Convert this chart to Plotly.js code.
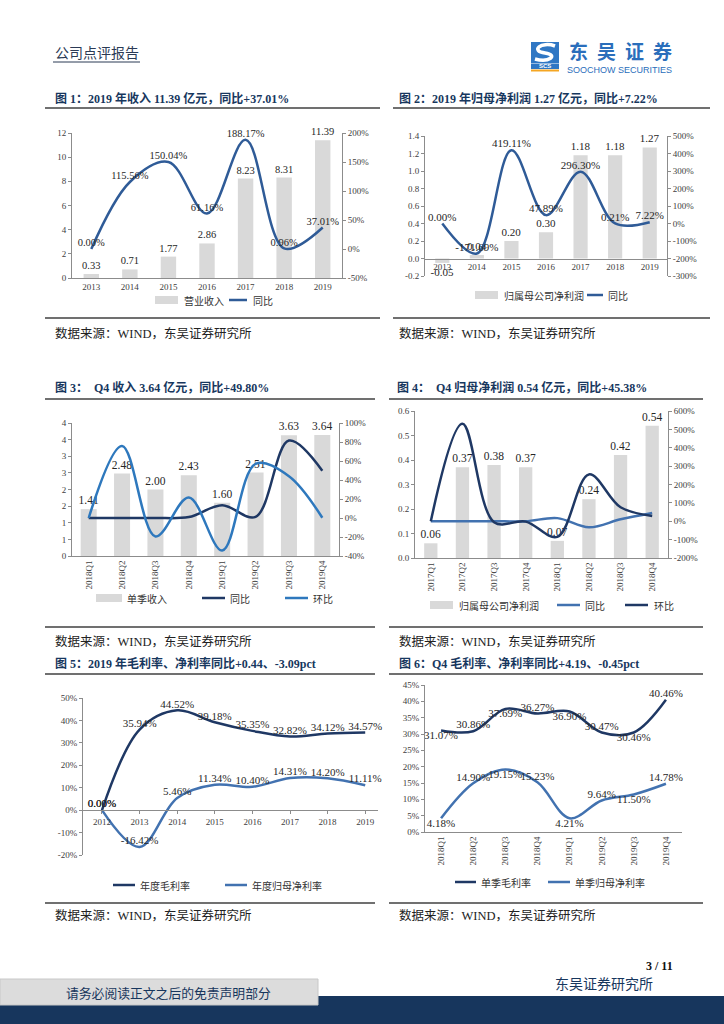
<!DOCTYPE html>
<html><head><meta charset="utf-8">
<script src="https://cdn.plot.ly/plotly-3.0.1.min.js"></script>
<style>html,body{margin:0;padding:0;background:#fff}#page{width:724px;height:1024px}</style>
</head><body><div id="page"></div>
<script>
// ---------------- DATA ----------------
const years1 = ['2013','2014','2015','2016','2017','2018','2019'];
const revenue = [0.33,0.71,1.77,2.86,8.23,8.31,11.39];
const revenueYoY = [0.00,115.56,150.04,61.16,188.17,0.96,37.01];
const netProfit = [-0.05,0.04,0.20,0.30,1.18,1.18,1.27];
const netProfitYoY = [0.00,-171.69,419.11,47.89,296.30,0.21,7.22];

const quarters3 = ['2018Q1','2018Q2','2018Q3','2018Q4','2019Q1','2019Q2','2019Q3','2019Q4'];
const qRevenue = [1.41,2.48,2.00,2.43,1.60,2.51,3.63,3.64];
const qRevenueYoY = [0,0,0,1,13.5,1.2,81.5,49.8];
const qRevenueQoQ = [0,75.9,-19.4,21.5,-34.2,57.0,44.0,0.3];

const quarters4 = ['2017Q1','2017Q2','2017Q3','2017Q4','2018Q1','2018Q2','2018Q3','2018Q4'];
const qProfit = [0.06,0.37,0.38,0.37,0.07,0.24,0.42,0.54];
const qProfitYoY = [0,0,0,0,17,-33,10.5,45.38];
const qProfitQoQ = [0,530,-5,-2,-85,255,76,28.6];

const years5 = ['2012','2013','2014','2015','2016','2017','2018','2019'];
const grossMargin = [0.00,35.94,44.52,39.18,35.35,32.82,34.12,34.57];
const netMargin = [0.00,-16.42,5.46,11.34,10.40,14.31,14.20,11.11];

const quarters6 = ['2018Q1','2018Q2','2018Q3','2018Q4','2019Q1','2019Q2','2019Q3','2019Q4'];
const qGrossMargin = [31.07,30.86,37.69,36.27,36.90,30.47,30.46,40.46];
const qNetMargin = [4.18,14.90,19.15,15.23,4.21,9.64,11.50,14.78];

// tick labels
const ticks1L = [0,2,4,6,8,10,12];
const ticks1R = [-50,0,50,100,150,200];
const ticks2L = [-0.2,0,0.2,0.4,0.6,0.8,1.0,1.2,1.4];
const ticks2R = [-300,-200,-100,0,100,200,300,400,500];
const ticks3L = [0,0.5,1,1.5,2,2.5,3,3.5,4];
const ticks3Ltext = ['0','1','1','2','2','3','3','4','4'];
const ticks3R = [-40,-20,0,20,40,60,80,100];
const ticks4L = [0,0.1,0.2,0.3,0.4,0.5,0.6];
const ticks4R = [-200,-100,0,100,200,300,400,500,600];
const ticks5 = [-20,-10,0,10,20,30,40,50];
const ticks6 = [0,5,10,15,20,25,30,35,40,45];

// ---------------- HELPERS ----------------
const W = 724, H = 1024;
const P = x => x / W;
const Q = y => 1 - y / H;
const SERIF = "'Liberation Serif','Noto Sans CJK SC',serif";
const CJK = "'Noto Sans CJK SC','Liberation Serif',sans-serif";
const GRAY = '#d9d9d9';
const NAVY = '#1f3864';
const BLUE = '#2f5b97';
const BRIGHT = '#2e78bd';
const MID = '#4272b0';
const TITLE = '#17375e';

const pct = v => v.toFixed(2) + '%';
const num2 = v => v.toFixed(2);
const pctTick = v => v + '%';
const dec1 = v => v.toFixed(1);

const axBase = {
  showline: true, linecolor: '#8c8c8c', linewidth: 1, showgrid: false, zeroline: false,
  ticks: 'outside', ticklen: 3, tickcolor: '#8c8c8c',
  tickfont: {family: SERIF, size: 9, color: '#404040'}, fixedrange: true
};
const lblFont = {family: SERIF, size: 11, color: '#262626'};

function zeroPos(dTop, dBot, r0, r1) {
  const b = Q(dBot), t = Q(dTop);
  return b + (0 - r0) / (r1 - r0) * (t - b);
}

// ---------------- TRACES ----------------
const traces = [];
// Chart 1
traces.push({type:'bar', x: years1, y: revenue, xaxis:'x', yaxis:'y', width:0.4,
  marker:{color:GRAY}, text: revenue.map(num2), textposition:'outside', constraintext:'none',
  textfont:{...lblFont, size:10.5}, cliponaxis:false, hoverinfo:'none'});
traces.push({type:'scatter', mode:'lines+text', x: years1, y: revenueYoY, xaxis:'x', yaxis:'y2',
  line:{color:BLUE, width:2.5, shape:'spline'}, text: revenueYoY.map(pct), textposition:'top center',
  textfont:{...lblFont, size:10.5}, cliponaxis:false, hoverinfo:'none'});
// Chart 2
traces.push({type:'bar', x: years1, y: netProfit, xaxis:'x2', yaxis:'y3', width:0.41,
  marker:{color:GRAY}, text: netProfit.map(num2), textposition:'outside', constraintext:'none',
  textfont:lblFont, cliponaxis:false, hoverinfo:'none'});
traces.push({type:'scatter', mode:'lines+text', x: years1, y: netProfitYoY, xaxis:'x2', yaxis:'y4',
  line:{color:BLUE, width:2.5, shape:'spline'}, text: netProfitYoY.map(pct), textposition:'top center',
  textfont:lblFont, cliponaxis:false, hoverinfo:'none'});
// Chart 3
traces.push({type:'bar', x: quarters3, y: qRevenue, xaxis:'x3', yaxis:'y5', width:0.48,
  marker:{color:GRAY}, text: qRevenue.map(num2), textposition:'outside', constraintext:'none',
  textfont:{...lblFont, size:11.5}, cliponaxis:false, hoverinfo:'none'});
traces.push({type:'scatter', mode:'lines', x: quarters3, y: qRevenueYoY, xaxis:'x3', yaxis:'y6',
  line:{color:NAVY, width:2.5, shape:'spline'}, cliponaxis:false, hoverinfo:'none'});
traces.push({type:'scatter', mode:'lines', x: quarters3, y: qRevenueQoQ, xaxis:'x3', yaxis:'y6',
  line:{color:BRIGHT, width:2.5, shape:'spline'}, cliponaxis:false, hoverinfo:'none'});
// Chart 4
traces.push({type:'bar', x: quarters4, y: qProfit, xaxis:'x4', yaxis:'y7', width:0.42,
  marker:{color:GRAY}, text: qProfit.map(num2), textposition:'outside', constraintext:'none',
  textfont:{...lblFont, size:11.5}, cliponaxis:false, hoverinfo:'none'});
traces.push({type:'scatter', mode:'lines', x: quarters4, y: qProfitYoY, xaxis:'x4', yaxis:'y8',
  line:{color:MID, width:2.5, shape:'spline'}, cliponaxis:false, hoverinfo:'none'});
traces.push({type:'scatter', mode:'lines', x: quarters4, y: qProfitQoQ, xaxis:'x4', yaxis:'y8',
  line:{color:NAVY, width:2.5, shape:'spline'}, cliponaxis:false, hoverinfo:'none'});
// Chart 5
traces.push({type:'scatter', mode:'lines+text', x: years5, y: grossMargin, xaxis:'x5', yaxis:'y9',
  line:{color:NAVY, width:2.5, shape:'spline'}, text: grossMargin.map(pct), textposition:'top center',
  textfont:lblFont, cliponaxis:false, hoverinfo:'none'});
traces.push({type:'scatter', mode:'lines+text', x: years5, y: netMargin, xaxis:'x5', yaxis:'y9',
  line:{color:MID, width:2.5, shape:'spline'}, text: netMargin.map(pct), textposition:'top center',
  textfont:lblFont, cliponaxis:false, hoverinfo:'none'});
// Chart 6
const alt = quarters6.map((q,i) => i % 2 === 0 ? 'bottom center' : 'top center');
traces.push({type:'scatter', mode:'lines+text', x: quarters6, y: qGrossMargin, xaxis:'x6', yaxis:'y10',
  line:{color:NAVY, width:2.5, shape:'spline'}, text: qGrossMargin.map(pct), textposition: alt,
  textfont:lblFont, cliponaxis:false, hoverinfo:'none'});
traces.push({type:'scatter', mode:'lines+text', x: quarters6, y: qNetMargin, xaxis:'x6', yaxis:'y10',
  line:{color:MID, width:2.5, shape:'spline'}, text: qNetMargin.map(pct), textposition: alt,
  textfont:lblFont, cliponaxis:false, hoverinfo:'none'});

// ---------------- AXES ----------------
const layout = {
  width: W, height: H, margin: {l:0, r:0, t:0, b:0}, showlegend: false,
  paper_bgcolor: '#fff', plot_bgcolor: 'rgba(0,0,0,0)', hovermode: false,
  // chart 1
  xaxis: {...axBase, type:'category', domain:[P(72),P(342)], anchor:'y', ticks:''},
  yaxis: {...axBase, domain:[Q(278),Q(133)], anchor:'x', range:[0,12], tickvals: ticks1L},
  yaxis2: {...axBase, overlaying:'y', side:'right', anchor:'x', range:[-50,200],
    tickvals: ticks1R, ticktext: ticks1R.map(pctTick)},
  // chart 2
  xaxis2: {...axBase, type:'category', domain:[P(425),P(667)], anchor:'free',
    position: zeroPos(136,276,-0.2,1.4), ticks:''},
  yaxis3: {...axBase, domain:[Q(276),Q(136)], anchor:'x2', range:[-0.2,1.4],
    tickvals: ticks2L, ticktext: ticks2L.map(dec1)},
  yaxis4: {...axBase, overlaying:'y3', side:'right', anchor:'x2', range:[-300,500],
    tickvals: ticks2R, ticktext: ticks2R.map(pctTick)},
  // chart 3
  xaxis3: {...axBase, type:'category', domain:[P(72),P(339)], anchor:'y5', ticks:'', tickangle:-90},
  yaxis5: {...axBase, domain:[Q(556),Q(423)], anchor:'x3', range:[0,4],
    tickvals: ticks3L, ticktext: ticks3Ltext},
  yaxis6: {...axBase, overlaying:'y5', side:'right', anchor:'x3', range:[-40,100],
    tickvals: ticks3R, ticktext: ticks3R.map(pctTick)},
  // chart 4
  xaxis4: {...axBase, type:'category', domain:[P(415),P(668)], anchor:'y7', ticks:'', tickangle:-90},
  yaxis7: {...axBase, domain:[Q(558),Q(411)], anchor:'x4', range:[0,0.6],
    tickvals: ticks4L, ticktext: ticks4L.map(dec1)},
  yaxis8: {...axBase, overlaying:'y7', side:'right', anchor:'x4', range:[-200,600],
    tickvals: ticks4R, ticktext: ticks4R.map(pctTick)},
  // chart 5
  xaxis5: {...axBase, type:'category', domain:[P(83),P(378)], anchor:'free',
    position: zeroPos(698,855,-20,50), range:[-0.505,7.34]},
  yaxis9: {...axBase, domain:[Q(855),Q(698)], anchor:'x5', range:[-20,50],
    tickvals: ticks5, ticktext: ticks5.map(pctTick)},
  // chart 6
  xaxis6: {...axBase, type:'category', domain:[P(425),P(682)], anchor:'y10', range:[-0.5,7.5],
    ticks:'', tickangle:-90},
  yaxis10: {...axBase, domain:[Q(832),Q(685)], anchor:'x6', range:[0,45],
    tickvals: ticks6, ticktext: ticks6.map(pctTick)},
  shapes: [], annotations: []
};

// ---------------- DECORATION ----------------
const S = layout.shapes, A = layout.annotations;
function hline(x0,x1,y,color,w){S.push({type:'line',xref:'paper',yref:'paper',x0:P(x0),x1:P(x1),y0:Q(y),y1:Q(y),line:{color:color,width:w}});}
function txt(x,y,t,size,color,family,anchor){A.push({xref:'paper',yref:'paper',x:P(x),y:Q(y),text:t,showarrow:false,xanchor:anchor||'left',yanchor:'middle',font:{size:size,color:color,family:family||SERIF}});}

// header
txt(53,52,'公司点评报告',14,'#2b3a55',CJK);
hline(53,140,62,'#2b3a55',1);
// logo
S.push({type:'rect',xref:'paper',yref:'paper',x0:P(531),x1:P(559),y0:Q(63),y1:Q(42),fillcolor:'#2f77c4',line:{width:0}});
S.push({type:'path',xref:'paper',yref:'paper',
  path:`M ${P(555)},${Q(46)} C ${P(541)},${Q(41)} ${P(530)},${Q(51)} ${P(545)},${Q(53)} C ${P(559)},${Q(55)} ${P(549)},${Q(63)} ${P(535)},${Q(59)}`,
  line:{color:'#ffffff',width:3.5}});
S.push({type:'rect',xref:'paper',yref:'paper',x0:P(531),x1:P(559),y0:Q(69),y1:Q(63.5),fillcolor:'#2f77c4',line:{width:0}});
S.push({type:'rect',xref:'paper',yref:'paper',x0:P(531),x1:P(559),y0:Q(71.5),y1:Q(69.5),fillcolor:'#f5a623',line:{width:0}});
txt(545,66.3,'<b>SCS</b>',6,'#ffffff',"'Liberation Sans',sans-serif",'center');
['东','吴','证','券'].forEach((c,i) => txt(578 + i*28, 50, '<b>'+c+'</b>', 19, '#2a6ebb', CJK, 'center'));
txt(619.5,70,'SOOCHOW SECURITIES',9,'#2a6ebb',"'Liberation Sans',sans-serif",'center');

// figure titles and rules
txt(53,98,'<b>图 1：2019 年收入 11.39 亿元，同比+37.01%</b>',12,TITLE);
txt(397,98,'<b>图 2：2019 年归母净利润 1.27 亿元，同比+7.22%</b>',12,TITLE);
hline(45,380,108,'#404040',1.5); hline(393,710,108,'#404040',1.5);
hline(45,380,318,'#404040',1.5); hline(393,710,318,'#404040',1.5);
txt(53,333,'数据来源：WIND，东吴证券研究所',12.5,'#222',SERIF);
txt(397,333,'数据来源：WIND，东吴证券研究所',12.5,'#222',SERIF);

txt(53,387,'<b>图 3：\u00a0\u00a0Q4 收入 3.64 亿元，同比+49.80%</b>',12,TITLE);
txt(395,387,'<b>图 4：\u00a0\u00a0Q4 归母净利润 0.54 亿元，同比+45.38%</b>',12,TITLE);
hline(45,375,399,'#404040',1.5); hline(389,703,399,'#404040',1.5);
hline(45,375,627,'#404040',1.5); hline(389,703,627,'#404040',1.5);
txt(53,641,'数据来源：WIND，东吴证券研究所',12.5,'#222',SERIF);
txt(397,641,'数据来源：WIND，东吴证券研究所',12.5,'#222',SERIF);

txt(53,663,'<b>图 5：2019 年毛利率、净利率同比+0.44、-3.09pct</b>',12,TITLE);
txt(397,663,'<b>图 6：Q4 毛利率、净利率同比+4.19、-0.45pct</b>',12,TITLE);
hline(45,375,674,'#404040',1.5); hline(389,703,674,'#404040',1.5);
hline(45,375,903,'#404040',1.5); hline(389,703,903,'#404040',1.5);
txt(53,915,'数据来源：WIND，东吴证券研究所',12.5,'#222',SERIF);
txt(397,915,'数据来源：WIND，东吴证券研究所',12.5,'#222',SERIF);

// legends (manual)
function legRect(x0,x1,y){S.push({type:'rect',xref:'paper',yref:'paper',x0:P(x0),x1:P(x1),y0:Q(y+4),y1:Q(y-4),fillcolor:GRAY,line:{width:0}});}
function legLine(x0,x1,y,c){hline(x0,x1,y,c,2.5);}
const LF = 10;
legRect(155,178,300); txt(182,300,'营业收入',LF,'#333',CJK);
legLine(229,247,300,BLUE); txt(251,300,'同比',LF,'#333',CJK);

legRect(475,498,295); txt(502,295,'归属母公司净利润',LF,'#333',CJK);
legLine(587,603,295,BLUE); txt(606,295,'同比',LF,'#333',CJK);

legRect(96,122,598); txt(125,598,'单季收入',LF,'#333',CJK);
legLine(202,225,598,NAVY); txt(228,598,'同比',LF,'#333',CJK);
legLine(285,308,598,BRIGHT); txt(311,598,'环比',LF,'#333',CJK);

legRect(430,453,605); txt(457,605,'归属母公司净利润',LF,'#333',CJK);
legLine(557,580,605,MID); txt(583,605,'同比',LF,'#333',CJK);
legLine(625,648,605,NAVY); txt(652,605,'环比',LF,'#333',CJK);

legLine(113,135,885,NAVY); txt(138,885,'年度毛利率',LF,'#333',CJK);
legLine(225,247,885,MID); txt(250,885,'年度归母净利率',LF,'#333',CJK);

legLine(455,476,882,NAVY); txt(479,882,'单季毛利率',LF,'#333',CJK);
legLine(548,570,882,MID); txt(573,882,'单季归母净利率',LF,'#333',CJK);

// footer
txt(675,966,'<b>3 / 11</b>',12,'#111',SERIF,'right');
S.push({type:'rect',xref:'paper',yref:'paper',x0:0,x1:1,y0:0,y1:Q(996),fillcolor:'#17365d',line:{width:0}});
S.push({type:'rect',xref:'paper',yref:'paper',x0:0,x1:P(318),y0:Q(1005),y1:Q(979),fillcolor:'#dcdcdc',line:{color:'#c8c8c8',width:1}});
txt(168,992.5,'请务必阅读正文之后的免责声明部分',12.8,'#17365d',CJK,'center');
txt(604,983,'东吴证券研究所',14,'#17365d',CJK,'center');

Plotly.newPlot('page', traces, layout, {staticPlot:true, displayModeBar:false});
</script>
</body></html>
